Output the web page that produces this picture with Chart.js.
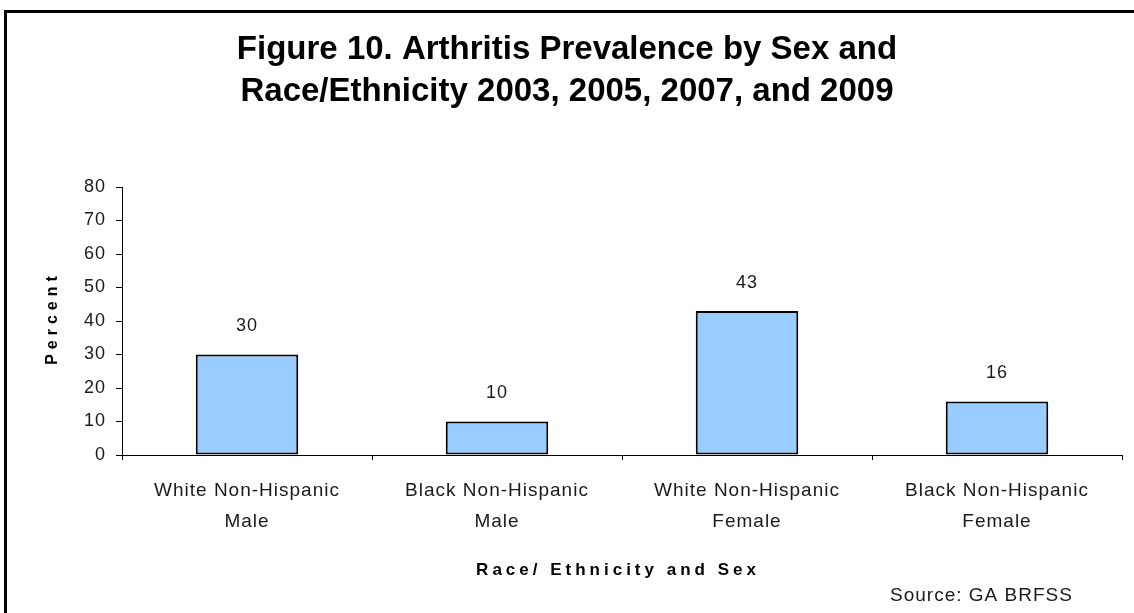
<!DOCTYPE html>
<html>
<head>
<meta charset="utf-8">
<script src="https://cdn.jsdelivr.net/npm/chart.js@4/dist/chart.umd.min.js"></script>
<style>
  html, body { margin: 0; padding: 0; background: #fff; }
  canvas { display: block; }
</style>
</head>
<body>
<canvas id="chart" width="1134" height="613"></canvas>
<script>
// Arthritis prevalence (%) by race/ethnicity and sex, GA BRFSS
const titleLines = ["Figure 10. Arthritis Prevalence by Sex and", "Race/Ethnicity 2003, 2005, 2007, and 2009"];
const categories = [
  ["White Non-Hispanic", "Male"],
  ["Black Non-Hispanic", "Male"],
  ["White Non-Hispanic", "Female"],
  ["Black Non-Hispanic", "Female"]
];
const prevalence = [30, 10, 43, 16];
const yMin = 0, yMax = 80, yStep = 10;
const yAxisTitle = "Percent";
const xAxisTitle = "Race/ Ethnicity and Sex";
const sourceNote = "Source: GA BRFSS";

const FONT = "'Liberation Sans', Arial, sans-serif";
const TEXT = "#1a1a1a";

// frame, headings, axis titles and value labels
const annotations = {
  id: "annotations",
  beforeDraw(chart) {
    const ctx = chart.ctx;
    ctx.save();
    ctx.fillStyle = "#fff";
    ctx.fillRect(0, 0, chart.width, chart.height);
    ctx.fillStyle = "#000";
    ctx.fillRect(4, 10, chart.width - 4, 3);
    ctx.fillRect(4, 10, 3, chart.height - 10);
    ctx.restore();
    ctx.letterSpacing = "1px";
  },
  afterDatasetsDraw(chart) {
    const ctx = chart.ctx;
    const meta = chart.getDatasetMeta(0);
    ctx.save();
    ctx.letterSpacing = "1px";
    ctx.font = "18px " + FONT;
    ctx.fillStyle = TEXT;
    ctx.textAlign = "center";
    ctx.textBaseline = "middle";
    meta.data.forEach((bar, i) => {
      ctx.fillText(String(chart.data.datasets[0].data[i]), bar.x, bar.y - 28);
    });
    ctx.restore();
  },
  afterDraw(chart) {
    const ctx = chart.ctx;
    const area = chart.chartArea;
    ctx.save();
    ctx.fillStyle = "#000";
    ctx.textAlign = "center";
    ctx.textBaseline = "middle";

    ctx.letterSpacing = "0px";
    ctx.font = "bold 33px " + FONT;
    titleLines.forEach((line, i) => ctx.fillText(line, chart.width / 2, 50 + i * 42));

    ctx.letterSpacing = "4px";
    ctx.font = "bold 17px " + FONT;
    ctx.fillText(xAxisTitle, 618, 570);

    ctx.save();
    ctx.translate(53, (area.top + area.bottom) / 2);
    ctx.rotate(-Math.PI / 2);
    ctx.letterSpacing = "5px";
    ctx.font = "bold 16px " + FONT;
    ctx.fillText(yAxisTitle, 3, 0);
    ctx.restore();

    ctx.letterSpacing = "1px";
    ctx.font = "19px " + FONT;
    ctx.fillStyle = TEXT;
    ctx.textAlign = "left";
    ctx.fillText(sourceNote, 890, 596);
    ctx.restore();
  }
};

new Chart(document.getElementById("chart"), {
  type: "bar",
  data: {
    labels: categories,
    datasets: [{
      data: prevalence,
      backgroundColor: "#99CCFF",
      borderColor: "#000",
      borderWidth: 2,
      borderSkipped: false,
      barPercentage: 0.41,
      categoryPercentage: 1.0
    }]
  },
  options: {
    responsive: false,
    devicePixelRatio: 1,
    animation: false,
    layout: { padding: { top: 187, right: 12, left: 0, bottom: 0 } },
    plugins: { legend: { display: false }, tooltip: { enabled: false }, title: { display: false } },
    scales: {
      x: {
        offset: true,
        grid: { display: true, drawOnChartArea: false, drawTicks: true, tickLength: 5, color: "#000", offset: true },
        border: { display: true, color: "#000", width: 1 },
        ticks: { font: { family: FONT, size: 19, lineHeight: 1.63 }, color: TEXT, padding: 15, maxRotation: 0 },
        afterFit(scale) { scale.height = 158; }
      },
      y: {
        min: yMin,
        max: yMax,
        ticks: { stepSize: yStep, font: { family: FONT, size: 18 }, color: TEXT, padding: 10 },
        grid: { display: true, drawOnChartArea: false, drawTicks: true, tickLength: 6, color: "#000" },
        border: { display: true, color: "#000", width: 1 },
        afterFit(scale) { scale.width = 122; }
      }
    }
  },
  plugins: [annotations]
});
</script>
</body>
</html>
